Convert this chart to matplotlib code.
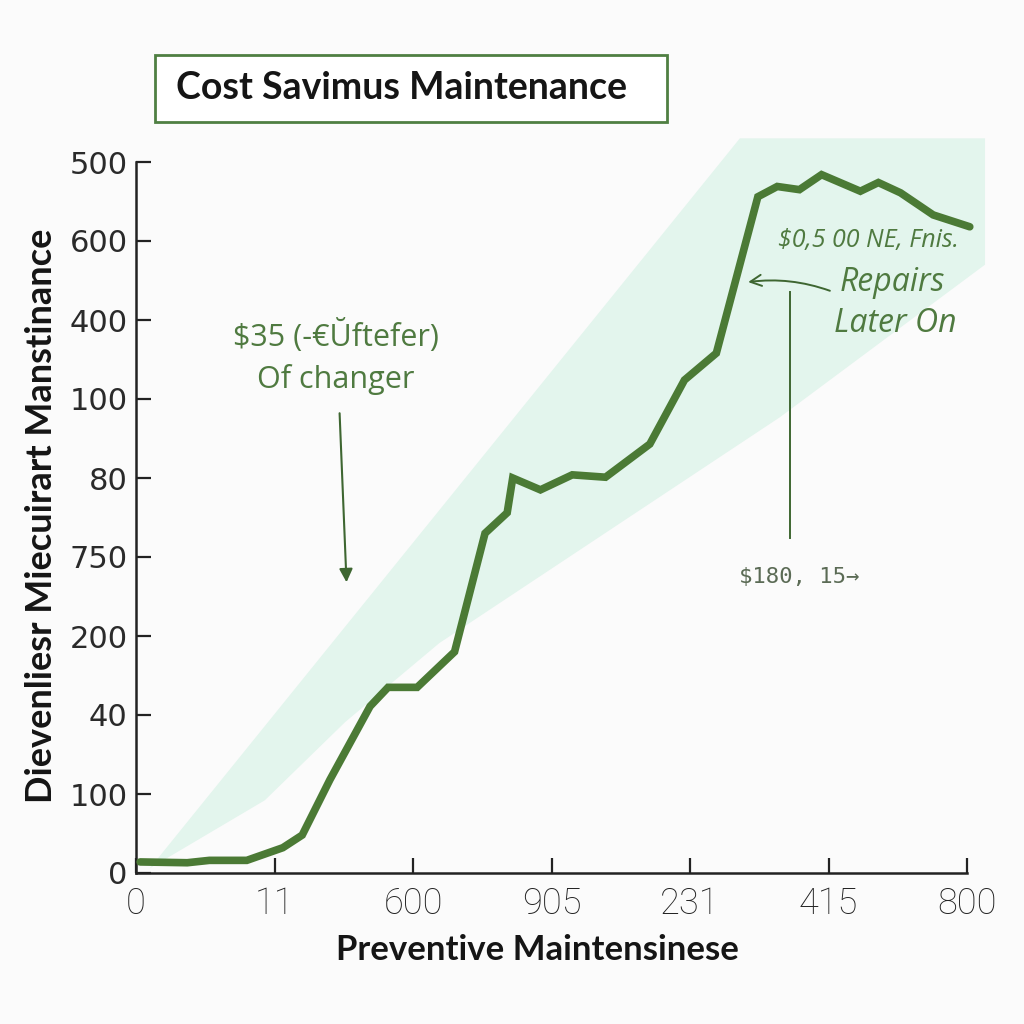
import matplotlib
matplotlib.use("Agg")
import matplotlib.pyplot as plt
from matplotlib.patches import Polygon, Rectangle

# ---- data (positions on an index scale; labels are the printed tick texts) ----
x_tick_labels = ["0", "11", "600", "905", "231", "415", "800"]
y_tick_labels = ["0", "100", "40", "200", "750", "80", "100", "400", "600", "500"]

line_x = [0.03, 0.37, 0.53, 0.80, 1.06, 1.20, 1.40, 1.69, 1.82, 2.03, 2.30,
          2.52, 2.68, 2.72, 2.92, 3.15, 3.39, 3.71, 3.96, 4.19, 4.49, 4.63,
          4.79, 4.95, 5.23, 5.36, 5.52, 5.756, 6.02]
line_y = [0.14, 0.13, 0.16, 0.16, 0.32, 0.48, 1.18, 2.11, 2.35, 2.35, 2.80,
          4.30, 4.56, 5.00, 4.85, 5.04, 5.01, 5.43, 6.24, 6.58, 8.56, 8.69,
          8.65, 8.84, 8.63, 8.74, 8.61, 8.33, 8.18]

wedge_x = [0.10, 4.36, 6.13, 6.13, 4.65, 2.19, 1.51, 0.93]
wedge_y = [0.06, 9.30, 9.30, 7.70, 5.77, 2.91, 1.91, 0.92]

title = "Cost Savimus Maintenance"
x_label = "Preventive Maintensinese"
y_label = "Dievenliesr Miecuirart Manstinance"

# ---- figure ----
W = H = 1024
fig = plt.figure(figsize=(10.24, 10.24), dpi=100, facecolor="#fbfbfb")
ax = fig.add_axes([136 / W, (H - 873) / H, (967 - 136) / W, (873 - 162) / H])
ax.set_facecolor("none")
ax.set_xlim(0, 6)
ax.set_ylim(0, 9)

line_col = "#4b7a35"
text_col = "#4f7a40"
arrow_col = "#3e6631"

ax.add_patch(Polygon(list(zip(wedge_x, wedge_y)), closed=True,
                     facecolor="#e3f5ed", edgecolor="none", clip_on=False, zorder=1))

ax.plot(line_x, line_y, color=line_col, lw=5.5, solid_joinstyle="miter",
        solid_capstyle="round", clip_on=False, zorder=3)

for s in ["top", "right"]:
    ax.spines[s].set_visible(False)
for s in ["left", "bottom"]:
    ax.spines[s].set_color("#222222")
    ax.spines[s].set_linewidth(1.8)

ax.set_xticks(range(len(x_tick_labels)))
ax.set_xticklabels(x_tick_labels, family=["Roboto", "DejaVu Sans"],
                   fontsize=26, fontweight="light", color="#222222")
ax.set_yticks(range(len(y_tick_labels)))
ax.set_yticklabels(y_tick_labels, family="DejaVu Sans", fontsize=22, color="#2a2a2a")
ax.tick_params(axis="both", direction="in", length=11, width=1.6, color="#222222")
ax.tick_params(axis="x", pad=9)
ax.tick_params(axis="y", pad=6)

fig.text(537 / W, 1 - 950 / H, x_label, ha="center", va="center",
         family=["Lato", "DejaVu Sans"], fontweight="bold",
         fontsize=25, color="#151515")
fig.text(42 / W, 1 - 516 / H, y_label, ha="center", va="center", rotation=90,
         family=["Lato", "DejaVu Sans"], fontweight="bold",
         fontsize=26, color="#151515")

# title box
fig.patches.append(Rectangle((155 / W, 1 - 122 / H), (667 - 155) / W, (122 - 55) / H,
                             transform=fig.transFigure, facecolor="white",
                             edgecolor="#4f7f42", lw=2))
fig.text(401 / W, 1 - 88 / H, title, ha="center", va="center",
         family=["Lato", "DejaVu Sans"], fontweight="bold", fontsize=27,
         color="#151515")

# annotations
ax.text(1.44, 6.80, "$35 (-€Ŭftefer)", ha="center", va="center",
        family=["Open Sans", "DejaVu Sans"], fontsize=22, color=text_col, zorder=4)
ax.text(1.44, 6.25, "Of changer", ha="center", va="center",
        family=["Open Sans", "DejaVu Sans"], fontsize=22, color=text_col, zorder=4)
ax.annotate("", xy=(1.52, 3.68), xytext=(1.47, 5.82),
            arrowprops=dict(arrowstyle="-|>", color=arrow_col, lw=1.5,
                            mutation_scale=20, shrinkA=0, shrinkB=0), zorder=4)

ax.text(5.29, 8.01, "$0,5 00 NE, Fnis.", ha="center", va="center",
        family=["Open Sans", "DejaVu Sans"], style="italic", fontsize=18,
        color=text_col, zorder=4)
ax.text(5.46, 7.48, "Repairs", ha="center", va="center",
        family=["Open Sans", "DejaVu Sans"], style="italic", fontsize=23,
        color=text_col, zorder=4)
ax.text(5.48, 6.95, "Later On", ha="center", va="center",
        family=["Open Sans", "DejaVu Sans"], style="italic", fontsize=23,
        color=text_col, zorder=4)
ax.annotate("", xy=(4.42, 7.48), xytext=(5.01, 7.37),
            arrowprops=dict(arrowstyle="->", color=arrow_col, lw=1.4,
                            mutation_scale=20, shrinkA=0, shrinkB=0,
                            connectionstyle="arc3,rad=0.12"), zorder=4)
ax.plot([4.72, 4.72], [7.35, 4.24], color=arrow_col, lw=1.4, zorder=4)

ax.text(4.79, 3.75, "$180, 15→", ha="center", va="center",
        family=["DejaVu Sans Mono", "DejaVu Sans"], fontsize=16,
        color="#5b6b55", zorder=4)

fig.savefig("out.png", dpi=100, facecolor=fig.get_facecolor())
